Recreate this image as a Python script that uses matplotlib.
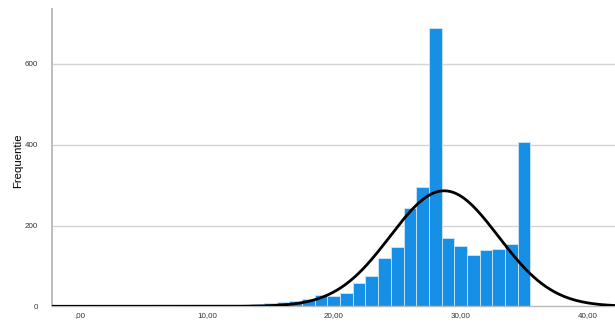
import matplotlib
matplotlib.use('Agg')

import numpy as np
import matplotlib.pyplot as plt

plt.rcParams['font.family'] = ['Liberation Sans', 'DejaVu Sans']

# bin centres (width 1) and counts
bin_centres = [14, 15, 16, 17, 18, 19, 20, 21, 22, 23, 24,
               25, 26, 27, 28, 29, 30, 31, 32, 33, 34, 35]
counts = [6, 7, 10, 14, 18, 27, 26, 34, 58, 74, 120,
          146, 244, 295, 688, 168, 149, 128, 139, 143, 154, 406]

# normal curve parameters
curve_mean = 28.7
curve_sd = 4.26
n_total = sum(counts)

x_ticks = [0, 10, 20, 30, 40]
x_tick_labels = [',00', '10,00', '20,00', '30,00', '40,00']
y_ticks = [0, 200, 400, 600]

fig = plt.figure(figsize=(6.15, 3.23), dpi=100)
ax = fig.add_axes([0.0846, 0.0517, 0.9154, 0.9203])

ax.bar(bin_centres, counts, width=1.0, color='#1590e6',
       edgecolor='#cfe6f8', linewidth=0.6, zorder=2)

xs = np.linspace(-2.2, 42.2, 400)
ys = n_total / (curve_sd * np.sqrt(2 * np.pi)) * np.exp(-0.5 * ((xs - curve_mean) / curve_sd) ** 2)
ax.plot(xs, ys, color='black', linewidth=2.0, zorder=3)

ax.set_xlim(-2.2, 42.16)
ax.set_ylim(0, 736)
ax.set_xticks(x_ticks)
ax.set_xticklabels(x_tick_labels)
ax.set_yticks(y_ticks)
ax.tick_params(axis='both', length=0, labelsize=5.8, colors='#333333', pad=4)
ax.tick_params(axis='y', pad=10)

for y in y_ticks[1:]:
    ax.axhline(y, color='#d4d4d4', linewidth=1.0, zorder=1)

for side in ['top', 'right']:
    ax.spines[side].set_visible(False)
ax.spines['left'].set_color('#b8b8b8')
ax.spines['left'].set_linewidth(1.3)
ax.spines['bottom'].set_color('#b8b8b8')
ax.spines['bottom'].set_linewidth(1.0)

ax.set_ylabel('Frequentie', fontsize=8.2, color='black')
ax.yaxis.set_label_coords(-0.052, 0.489)

fig.savefig('out.png', dpi=100)
